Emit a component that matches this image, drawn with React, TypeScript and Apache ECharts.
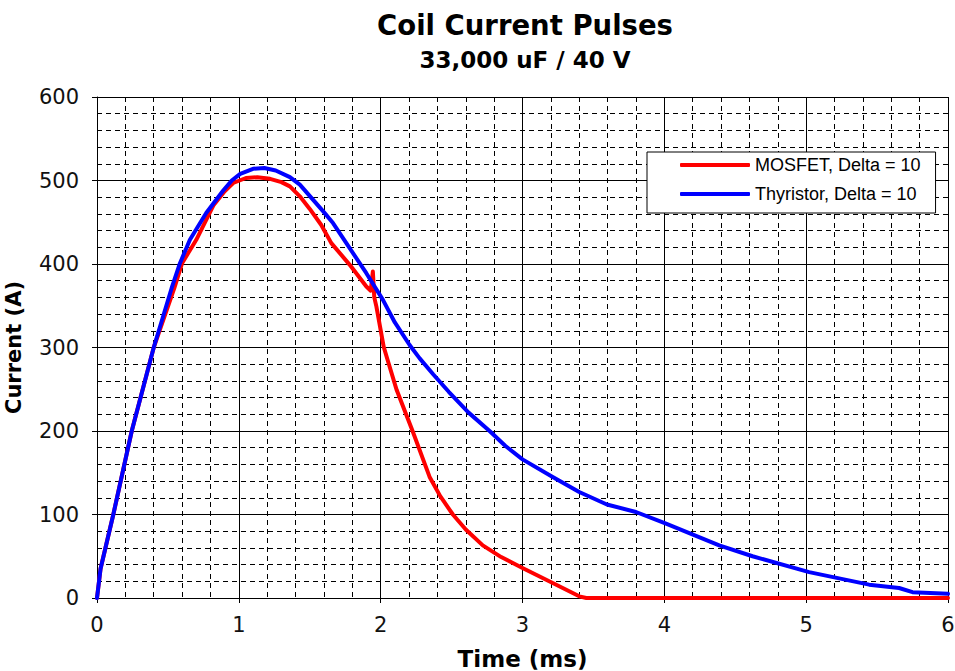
import React, { useEffect, useRef } from "react";
import * as echarts from "echarts";

const mosfetName = "MOSFET, Delta = 10";
const thyristorName = "Thyristor, Delta = 10";

const mosfetTime = [0, 0.025, 0.115, 0.245, 0.4, 0.545, 0.6, 0.7, 0.82, 0.9, 0.96, 1.05, 1.13, 1.22, 1.3, 1.36, 1.43, 1.5, 1.58, 1.652, 1.782, 1.899, 1.93, 1.945, 1.955, 1.97, 2.021, 2.049, 2.113, 2.227, 2.345, 2.42, 2.509, 2.6, 2.72, 2.85, 3.0, 3.213, 3.4, 3.45, 6.0];
const mosfetCurrent = [0, 35, 100, 200, 300, 371, 401, 429, 470, 487, 497, 503, 504, 502, 498, 493, 481, 466, 447, 425, 399, 373, 368, 391, 360, 349, 301, 285, 249, 199, 145, 122, 100, 82, 63, 49, 36, 18, 2, 0, 0];

const thyristorTime = [0, 0.025, 0.115, 0.245, 0.4, 0.526, 0.585, 0.655, 0.77, 0.89, 0.95, 1.01, 1.1, 1.18, 1.26, 1.36, 1.43, 1.595, 1.664, 1.758, 1.899, 2.016, 2.1, 2.204, 2.275, 2.37, 2.48, 2.62, 2.768, 2.88, 3.0, 3.213, 3.4, 3.595, 3.8, 4.012, 4.387, 4.622, 5.021, 5.444, 5.655, 5.75, 6.0];
const thyristorCurrent = [0, 35, 100, 200, 300, 371, 401, 429, 461, 488, 500, 508, 514, 515, 512, 504, 495, 463, 449, 425, 389, 357, 330, 303, 287, 268, 247, 222, 200, 182, 166, 145, 127, 112, 103, 89, 63, 50, 31, 16, 12, 7, 5];

const titleText = "Coil Current Pulses";
const subtitleText = "33,000 uF / 40 V";
const xAxisName = "Time (ms)";
const yAxisName = "Current (A)";

function pairs(xs: number[], ys: number[]) {
  return xs.map((x, i) => [x, ys[i]]);
}

export default function App() {
  const ref = useRef<HTMLDivElement>(null);
  useEffect(() => {
    if (!ref.current) return;
    const chart = echarts.init(ref.current, undefined, { renderer: "svg" });
    const font = "DejaVu Sans";
    const minorLine = { show: true, lineStyle: { color: "#000", width: 1, type: [5, 4] as number[] } };
    chart.setOption({
      animation: false,
      backgroundColor: "#fff",
      title: [
        {
          text: titleText,
          left: 520,
          top: 6,
          textAlign: "center",
          textStyle: { fontFamily: font, fontWeight: "bold", fontSize: 27.5, color: "#000" },
        },
        {
          text: subtitleText,
          left: 520,
          top: 43,
          textAlign: "center",
          textStyle: { fontFamily: font, fontWeight: "bold", fontSize: 23, color: "#000" },
        },
      ],
      legend: {
        data: [mosfetName, thyristorName],
        orient: "vertical",
        left: 647,
        top: 152,
        itemWidth: 70,
        itemHeight: 4,
        itemGap: 9,
        icon: "roundRect",
        padding: [3, 15, 9, 33],
        borderColor: "#000",
        borderWidth: 1,
        borderRadius: 0,
        backgroundColor: "#fff",
        textStyle: { fontFamily: "Liberation Sans", fontSize: 18, color: "#000", lineHeight: 20 },
      },
      grid: { left: 97, right: 7, top: 97, bottom: 73, containLabel: false, outerBoundsMode: "none" },
      xAxis: {
        type: "value",
        min: 0,
        max: 6,
        interval: 1,
        name: xAxisName,
        nameLocation: "middle",
        nameGap: 49,
        nameTextStyle: { fontFamily: font, fontWeight: "bold", fontSize: 23, color: "#000" },
        axisLine: { show: true, lineStyle: { color: "#000", width: 1 } },
        axisTick: { show: true, length: 5, lineStyle: { color: "#000" } },
        axisLabel: { margin: 16, fontFamily: font, fontSize: 21, color: "#111" },
        splitLine: { show: true, lineStyle: { color: "#000", width: 1 } },
        minorTick: { show: false, splitNumber: 5 },
        minorSplitLine: minorLine,
      },
      yAxis: {
        type: "value",
        min: 0,
        max: 600,
        interval: 100,
        name: yAxisName,
        nameLocation: "middle",
        nameGap: 73,
        nameTextStyle: { fontFamily: font, fontWeight: "bold", fontSize: 21, color: "#000" },
        axisLine: { show: true, lineStyle: { color: "#000", width: 1 } },
        axisTick: { show: true, length: 5, lineStyle: { color: "#000" } },
        axisLabel: { margin: 18, fontFamily: font, fontSize: 21, color: "#111" },
        splitLine: { show: true, lineStyle: { color: "#000", width: 1 } },
        minorTick: { show: false, splitNumber: 5 },
        minorSplitLine: minorLine,
      },
      series: [
        {
          name: mosfetName,
          type: "line",
          data: pairs(mosfetTime, mosfetCurrent),
          showSymbol: false,
          symbol: "none",
          lineStyle: { color: "#ff0000", width: 4, cap: "round", join: "round" },
          itemStyle: { color: "#ff0000" },
        },
        {
          name: thyristorName,
          type: "line",
          data: pairs(thyristorTime, thyristorCurrent),
          showSymbol: false,
          symbol: "none",
          lineStyle: { color: "#0000ff", width: 4, cap: "round", join: "round" },
          itemStyle: { color: "#0000ff" },
        },
      ],
    });
    return () => chart.dispose();
  }, []);
  return (
    <div
      ref={ref}
      style={{ position: "fixed", left: 0, top: 0, width: 955, height: 671, background: "#fff" }}
    />
  );
}
